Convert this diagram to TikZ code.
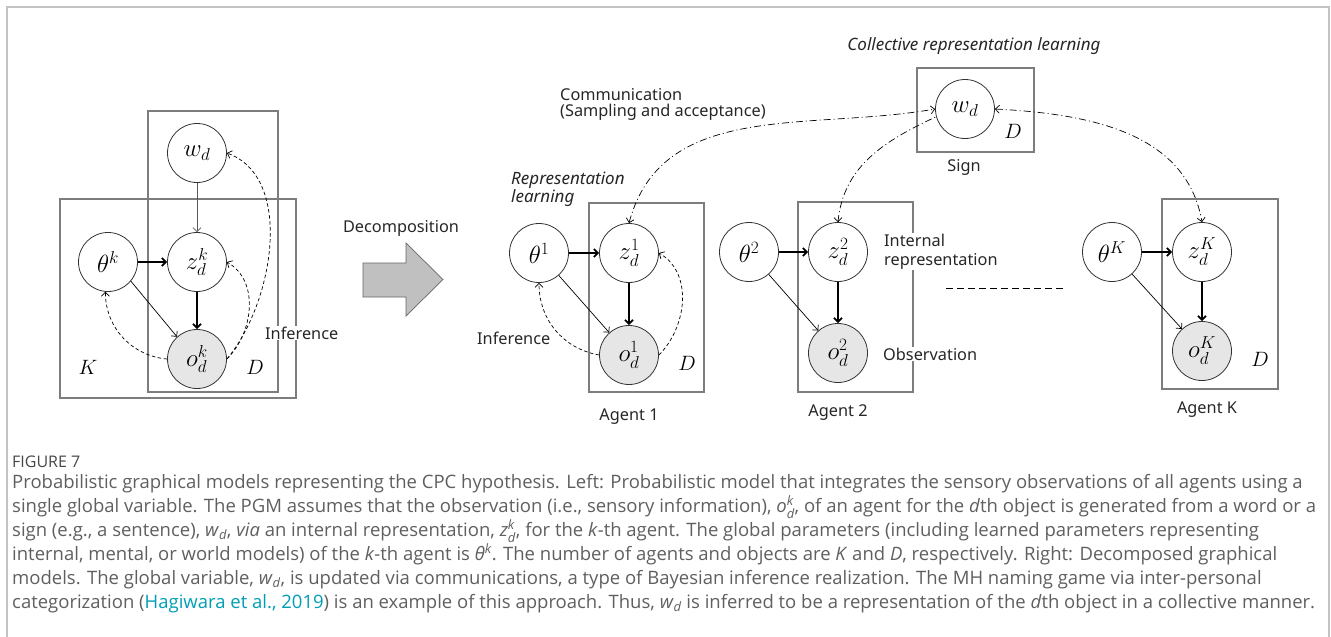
\documentclass[tikz,border=0pt]{standalone}
\usepackage{amsmath}
\usepackage{fontspec}
\setmainfont{Open Sans}
\newfontfamily\diagfont{Noto Sans}
\usetikzlibrary{arrows.meta,positioning}
\definecolor{framegray}{RGB}{195,195,195}
\definecolor{plategray}{RGB}{125,125,125}
\definecolor{obsfill}{RGB}{230,230,230}
\definecolor{decompfill}{RGB}{192,192,192}
\definecolor{capgray}{RGB}{95,95,95}
\definecolor{citeteal}{RGB}{0,158,180}
\tikzset{
  pgmvar/.style={circle,draw=black!80,line width=0.8pt,fill=white,
    minimum size=59pt,inner sep=0pt,font=\fontsize{24}{26}\selectfont},
  obsvar/.style={pgmvar,fill=obsfill},
  plate/.style={rectangle,draw=plategray,line width=1.2pt,inner sep=0pt},
  platelab/.style={font=\fontsize{21}{23}\selectfont,inner sep=0pt},
  lab/.style={font=\diagfont\fontsize{16.3}{18}\selectfont,text=black!85,
    inner sep=1pt},
  itlab/.style={font=\diagfont\itshape\fontsize{17}{19}\selectfont,
    text=black!85,inner sep=1pt},
  % arrows of the graphical models
  thinarr/.style={-{Straight Barb[length=4pt,width=8pt]},line width=0.7pt},
  thickarr/.style={-{Straight Barb[length=4pt,width=8pt]},line width=1.8pt},
  infarr/.style={-{Straight Barb[length=4pt,width=8pt]},line width=0.7pt,
    dash pattern=on 3.5pt off 2.5pt},
  commarr/.style={{Straight Barb[length=4pt,width=8pt]}-{Straight Barb[length=4pt,width=8pt]},
    line width=0.7pt,dash pattern=on 7pt off 3pt on 1pt off 3pt},
  decomp/.style={fill=decompfill,draw=black!60,line width=0.7pt},
  capline/.style={anchor=base west,inner sep=0pt,text=capgray,
    font=\fontsize{18.5}{21}\selectfont}
}

\begin{document}
\begin{tikzpicture}[x=1pt,y=-1pt]
  \useasboundingbox (0,0) rectangle (1331,637);
  \draw[framegray,line width=1.5pt] (7,637) -- (7,7) -- (1329,7) -- (1329,637);

  % ---- left: one model for all agents
  \node[plate,minimum width=236pt,minimum height=199pt] (Kplate) at (178,298.5) {};
  \node[plate,minimum width=130pt,minimum height=281pt] (Dplate) at (213,251.5) {};
  \node[pgmvar] (wd) at (197,153) {$w_d$};
  \node[pgmvar] (zk) at (197,262) {$z_d^k$};
  \node[pgmvar] (thk) at (108,262) {$\theta^k$};
  \node[obsvar] (ok) at (197,359) {$o_d^k$};
  \node[platelab] (Klab) at (88,367) {$K$};
  \node[platelab] (Dlab) at (255,367) {$D$};
  \node[lab,fill=white,anchor=west] (infK) at (264,333) {Inference};
  \draw[thinarr,black!65] (wd) -- (zk);
  \draw[thickarr] (thk) -- (zk);
  \draw[thickarr] (zk) -- (ok);
  \draw[thinarr] (thk.-40) -- (ok.132);
  \draw[infarr] (ok.west) to[out=175,in=-90] (thk.265);
  \draw[infarr] (ok.east) to[out=45,in=-30] (zk.east);
  \draw[infarr] (ok.east) to[out=50,in=-20,looseness=0.9] (wd.east);

  % ---- decomposition
  \node[lab] (declab) at (401,228) {Decomposition};
  \draw[decomp] (363,263) -- (406,263) -- (406,243) -- (443,279.5)
    -- (406,316) -- (406,297) -- (363,297) -- cycle;

  % ---- right: sign shared by the agents
  \node[itlab] (collab) at (974,46) {Collective representation learning};
  \node[plate,minimum width=117pt,minimum height=84pt] (splate) at (975.5,110) {};
  \node[pgmvar] (ws) at (965,109) {$w_d$};
  \node[platelab] (Dsign) at (1013,131) {$D$};
  \node[lab] (signlab) at (964,167) {Sign};
  \node[lab,anchor=west,align=left,font=\diagfont\fontsize{16.3}{15.5}\selectfont]
    (commlab) at (559,104.5) {Communication\\(Sampling and acceptance)};

  % agent 1
  \node[plate,minimum width=115pt,minimum height=189pt] (plate1) at (646.5,297.5) {};
  \node[pgmvar] (th1) at (539,253) {$\theta^1$};
  \node[pgmvar] (z1) at (629,253) {$z_d^1$};
  \node[obsvar] (o1) at (629,355) {$o_d^1$};
  \node[platelab] (D1) at (687,363) {$D$};
  \node[lab] (ag1) at (629,417) {Agent 1};
  \node[itlab,anchor=west,align=left,font=\diagfont\itshape\fontsize{17}{18}\selectfont]
    (replab) at (510,189) {Representation\\learning};
  \node[lab,anchor=west] (inf1) at (476,338) {Inference};
  \draw[thickarr] (th1) -- (z1);
  \draw[thickarr] (z1) -- (o1);
  \draw[thinarr] (th1) -- (o1);
  \draw[infarr] (o1.west) to[out=170,in=-90] (th1.south);
  \draw[infarr] (o1.east) to[out=45,in=-30] (z1.east);

  % agent 2
  \node[plate,minimum width=115pt,minimum height=190pt] (plate2) at (855.5,297) {};
  \node[lab,fill=white,anchor=west,align=left,font=\diagfont\fontsize{16.3}{19}\selectfont]
    (intlab) at (883,251.5) {Internal\\representation};
  \node[lab,fill=white,anchor=west] (obslab) at (882,354) {Observation};
  \node[pgmvar] (th2) at (749,252) {$\theta^2$};
  \node[pgmvar] (z2) at (838,252) {$z_d^2$};
  \node[obsvar] (o2) at (838,353) {$o_d^2$};
  \node[lab] (ag2) at (838,413) {Agent 2};
  \draw[thickarr] (th2) -- (z2);
  \draw[thickarr] (z2) -- (o2);
  \draw[thinarr] (th2) -- (o2);

  % more agents
  \coordinate (moreL) at (946,288);
  \coordinate (moreR) at (1066,288);
  \draw[line width=1pt,dash pattern=on 7pt off 4pt] (moreL) -- (moreR);

  % agent K
  \node[plate,minimum width=116pt,minimum height=190pt] (plateK) at (1220,294) {};
  \node[pgmvar] (thK) at (1112,252) {$\theta^K$};
  \node[pgmvar] (zK) at (1202,252) {$z_d^K$};
  \node[obsvar] (oK) at (1202,351) {$o_d^K$};
  \node[platelab] (DK) at (1260,359) {$D$};
  \node[lab] (agK) at (1207,410) {Agent K};
  \draw[thickarr] (thK) -- (zK);
  \draw[thickarr] (zK) -- (oK);
  \draw[thinarr] (thK) -- (oK);

  % communication through the sign
  \draw[commarr] (z1.north) to[out=75,in=190] (ws.west);
  \draw[commarr,-] (z2.north) to[out=85,in=205] (ws.195);
  \draw[commarr,{Straight Barb[length=4pt,width=8pt]}-] (z2.north) -- ++(0,-0.1);
  \draw[commarr] (ws.east) to[out=-3,in=100] (zK.north);

  % ---- caption
  \node[anchor=base west,inner sep=0pt,text=black!72,
    font=\fontsize{16}{18}\selectfont] (fig) at (12,467) {FIGURE 7};
  \node[capline] (cap1) at (12,488) {Probabilistic graphical models representing the CPC hypothesis. Left: Probabilistic model that integrates the sensory observations of all agents using a};
  \node[capline] (cap2) at (12,512) {single global variable. The PGM assumes that the observation (i.e., sensory information), $\textit{o}^{\textit{k}}_{\textit{d}}$, of an agent for the \textit{d}th object is generated from a word or a};
  \node[capline] (cap3) at (12,536) {sign (e.g., a sentence), \textit{w}$_{\textit{d}}$, \textit{via} an internal representation, $\textit{z}^{\textit{k}}_{\textit{d}}$, for the \textit{k}-th agent. The global parameters (including learned parameters representing};
  \node[capline] (cap4) at (12,560) {internal, mental, or world models) of the \textit{k}-th agent is \textit{θ}$^{\textit{k}}$. The number of agents and objects are \textit{K} and \textit{D}, respectively. Right: Decomposed graphical};
  \node[capline] (cap5) at (12,584) {models. The global variable, \textit{w}$_{\textit{d}}$, is updated via communications, a type of Bayesian inference realization. The MH naming game via inter-personal};
  \node[capline] (cap6) at (12,608) {categorization ({\color{citeteal}Hagiwara et al., 2019}) is an example of this approach. Thus, \textit{w}$_{\textit{d}}$ is inferred to be a representation of the \textit{d}th object in a collective manner.};
\end{tikzpicture}
\end{document}
